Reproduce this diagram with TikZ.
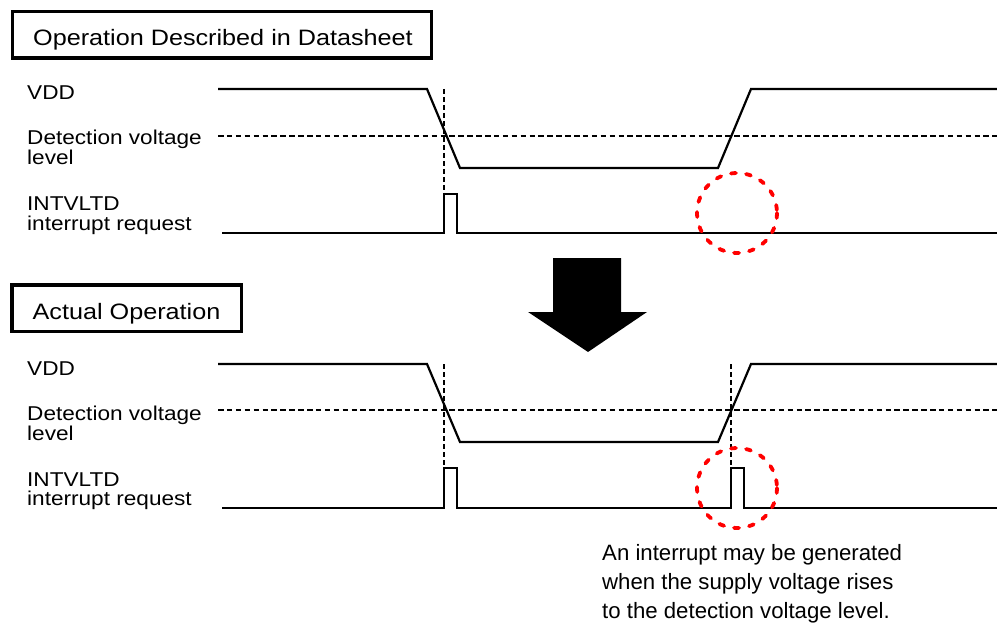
\documentclass[tikz,border=0pt]{standalone}
\usepackage{fontspec}
\setmainfont{Liberation Sans}
\newfontfamily\widefont[FakeStretch=1.13]{Liberation Sans}
\begin{document}
\begin{tikzpicture}[x=1pt,y=-1pt,
  titlebox/.style={draw,line width=3.5pt,inner sep=0pt,font=\widefont\fontsize{22.3}{24}\selectfont},
  lbl/.style={anchor=base west,inner sep=0pt,font=\widefont\fontsize{20}{20}\selectfont},
  note/.style={anchor=base west,inner sep=0pt,font=\fontsize{22.2}{24}\selectfont},
  sig/.style={line width=2.2pt,line join=miter},
  lvl/.style={line width=1.8pt,dash pattern=on 5.5pt off 3.4pt},
  vguide/.style={line width=1.6pt,dash pattern=on 5pt off 3pt},
  redring/.style={red,line width=3.8pt,line cap=round,dash pattern=on 5pt off 10.2pt}]
\useasboundingbox (0,0) rectangle (997,623);

% ---------- top: datasheet ----------
\node[titlebox,minimum width=419pt,minimum height=46.7pt] (t1) at (222,34.7) {};
\node[anchor=base,inner sep=0pt,font=\widefont\fontsize{22.3}{24}\selectfont] (t1txt) at (223,46) {Operation Described in Datasheet};

\node[lbl] (a1) at (27,100) {VDD};
\node[lbl] (a2) at (27,145) {Detection voltage};
\node[lbl] (a3) at (27,165) {level};
\node[lbl] (a4) at (27,211) {INTVLTD};
\node[lbl] (a5) at (27,230) {interrupt request};

\draw[lvl] (218,136) -- (997,136);
\draw[vguide] (444,89) -- (444,194);
\draw[sig] (218,89) -- (427,89) -- (460,168) -- (718,168) -- (751,89) -- (997,89);
\draw[sig] (222,233) -- (444,233) -- (444,194) -- (457,194) -- (457,233) -- (997,233);
\draw[redring] (737,213) circle[radius=40];

% ---------- arrow ----------
\fill (553,258) -- (621,258) -- (621,312) -- (647,312) -- (588,352) -- (528,312) -- (553,312) -- cycle;

% ---------- bottom: actual ----------
\node[titlebox,minimum width=229.5pt,minimum height=46.7pt] (t2) at (126.8,308.3) {};
\node[anchor=base,inner sep=0pt,font=\widefont\fontsize{22.3}{24}\selectfont] (t2txt) at (126.5,319) {Actual Operation};

\node[lbl] (b1) at (27,375) {VDD};
\node[lbl] (b2) at (27,420) {Detection voltage};
\node[lbl] (b3) at (27,440) {level};
\node[lbl] (b4) at (27,486) {INTVLTD};
\node[lbl] (b5) at (27,505) {interrupt request};

\draw[lvl] (218,410) -- (997,410);
\draw[vguide] (444,364) -- (444,468);
\draw[vguide] (731,364) -- (731,468);
\draw[sig] (218,364) -- (427,364) -- (460,442) -- (718,442) -- (751,364) -- (997,364);
\draw[sig] (222,508) -- (444,508) -- (444,468) -- (457,468) -- (457,508) -- (731,508) -- (731,468) -- (744,468) -- (744,508) -- (997,508);
\draw[redring] (737,488) circle[radius=40];

\node[note] (n1) at (602,560.5) {An interrupt may be generated};
\node[note] (n2) at (602,589.5) {when the supply voltage rises};
\node[note] (n3) at (602,618) {to the detection voltage level.};
\end{tikzpicture}
\end{document}
